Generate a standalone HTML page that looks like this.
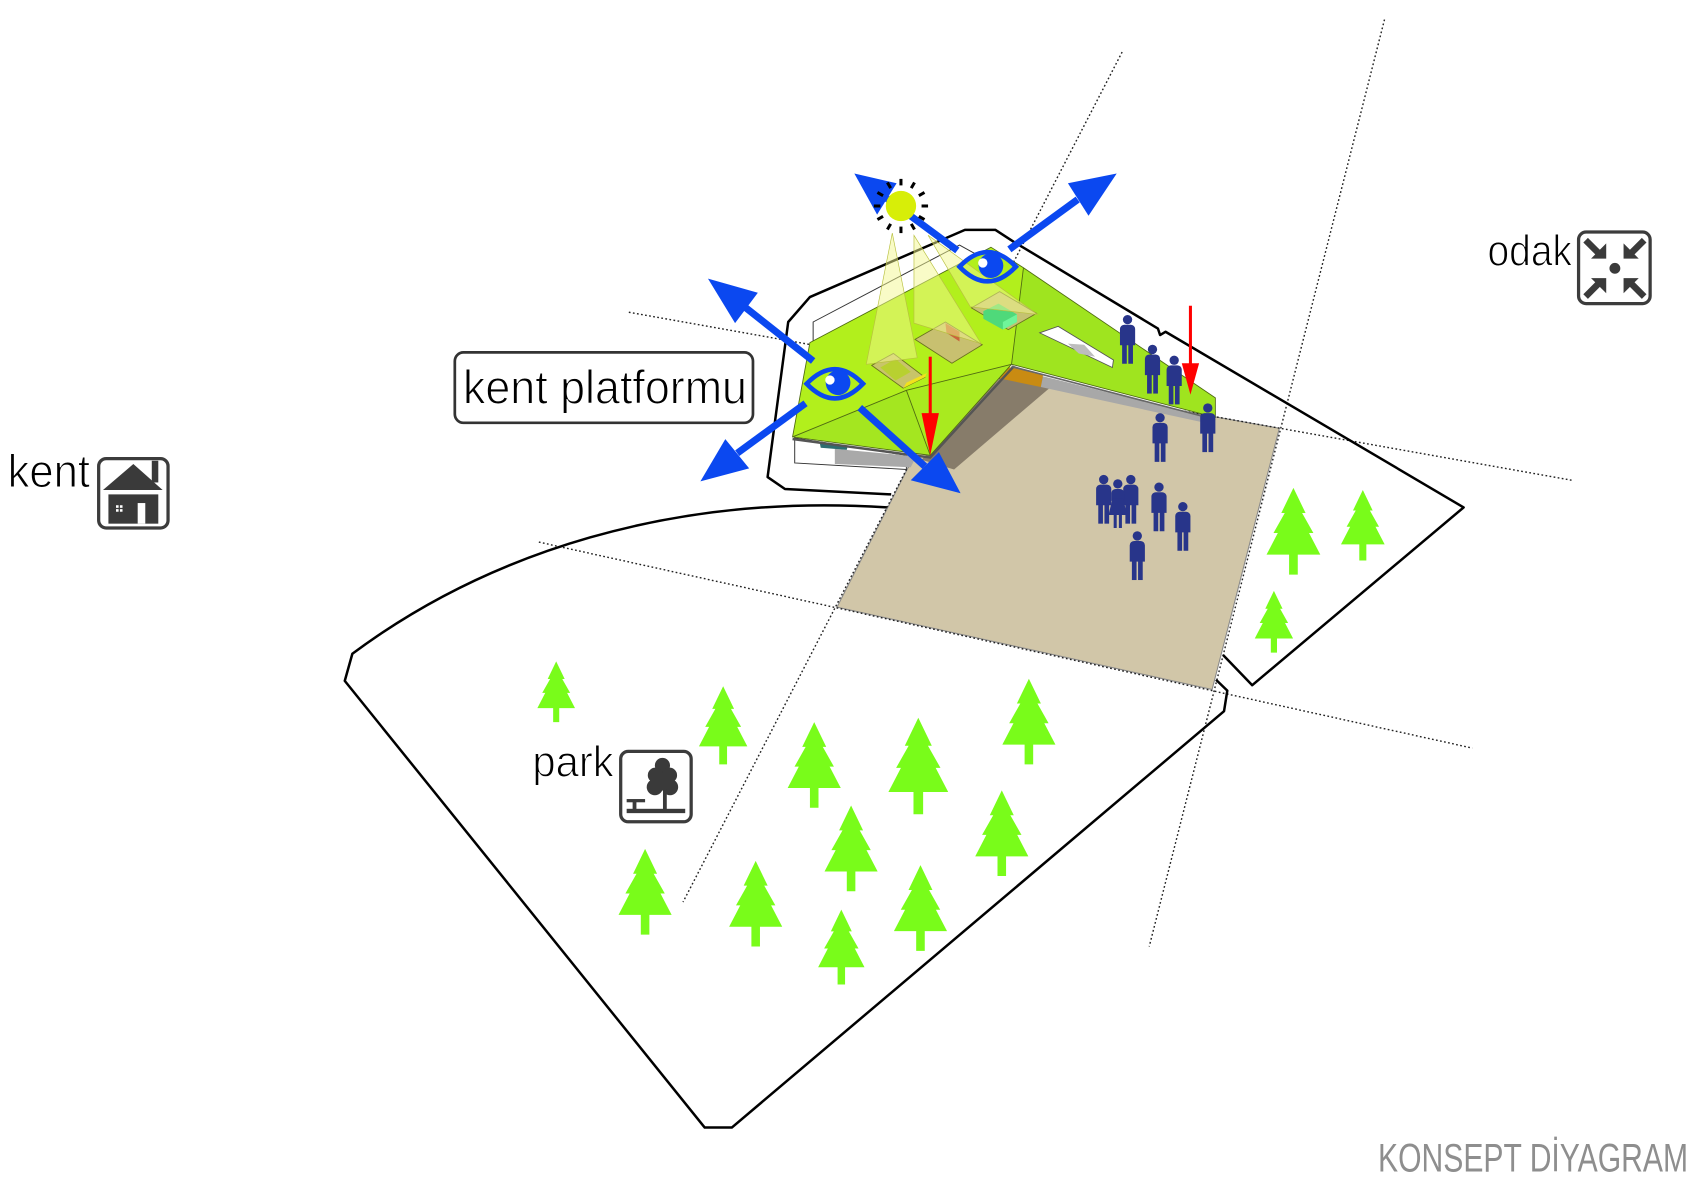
<!DOCTYPE html>
<html><head><meta charset="utf-8"><style>
html,body{margin:0;padding:0;background:#fff;}
svg{display:block;}
text{font-family:"Liberation Sans","DejaVu Sans",sans-serif;}
.lb{stroke:#fff;stroke-width:1;}
</style></head><body>
<svg xmlns="http://www.w3.org/2000/svg" width="1700" height="1181" viewBox="0 0 1568 1089.3">
<defs>
<path id="tr" d="M0,0 L14,29 L10,29 L23,52 L18,52 L31,77 L5,77 L5,100 L-5,100 L-5,77 L-31,77 L-18,52 L-23,52 L-10,29 L-14,29 Z" fill="#79fc1a"/>
<g id="pm" fill="#28358a">
<circle cx="0" cy="4.3" r="4.3"/>
<path d="M-7,13 a4,4 0 0 1 4,-4 h6 a4,4 0 0 1 4,4 v15 h-14 Z"/>
<rect x="-5" y="27" width="4.3" height="18"/>
<rect x="0.7" y="27" width="4.3" height="18"/>
</g>
<g id="pf" fill="#28358a">
<circle cx="0" cy="4.3" r="4.3"/>
<path d="M-6,13 a4,4 0 0 1 4,-4 h4 a4,4 0 0 1 4,4 v7 h-12 Z"/>
<polygon points="-5,18 5,18 8.5,33 -8.5,33"/>
<rect x="-3.8" y="32" width="2.8" height="13"/>
<rect x="1" y="32" width="2.8" height="13"/>
</g>
</defs>

<rect x="0" y="0" width="1568" height="1089.3" fill="#fff"/>

<!-- plaza -->
<polygon points="883,342 1180,395 1118,636 772,560" fill="#d1c6a8" stroke="#8a8a8a" stroke-width="1"/>

<!-- dotted lines -->
<g stroke="#222" stroke-width="1.3" stroke-dasharray="1.6 2.2" fill="none">
<line x1="1035" y1="48" x2="630" y2="832"/>
<line x1="1277" y1="18" x2="1060" y2="873"/>
<line x1="580" y1="288" x2="1450" y2="443"/>
<line x1="497" y1="500" x2="1358" y2="690"/>
</g>

<!-- parcels -->
<g fill="none" stroke="#000" stroke-width="2.3" stroke-linejoin="round">
<path d="M818,468 C620,455 450,510 325,603 L318,628 L650,1040 L675,1040 L1129,656 L1132,637 L1121.6,627"/>
<path d="M822,456 L724,451 L708,440 L727,297 L747,274 L890,212 L918,212 L935,223 L1068,303 L1070,309 L1075,306 L1350,468 L1155,632 L1128,604"/>
</g>

<!-- trees -->
<g>
<use href="#tr" transform="translate(513,610) scale(0.56)"/>
<use href="#tr" transform="translate(667,633) scale(0.72)"/>
<use href="#tr" transform="translate(751,666) scale(0.79)"/>
<use href="#tr" transform="translate(847,662) scale(0.89)"/>
<use href="#tr" transform="translate(949,626) scale(0.79)"/>
<use href="#tr" transform="translate(924,729) scale(0.79)"/>
<use href="#tr" transform="translate(785,743) scale(0.79)"/>
<use href="#tr" transform="translate(595,783) scale(0.79)"/>
<use href="#tr" transform="translate(697,794) scale(0.79)"/>
<use href="#tr" transform="translate(849,798) scale(0.79)"/>
<use href="#tr" transform="translate(776,839) scale(0.69)"/>
<use href="#tr" transform="translate(1193,450) scale(0.80)"/>
<use href="#tr" transform="translate(1257,452) scale(0.65)"/>
<use href="#tr" transform="translate(1175,545) scale(0.57)"/>
</g>

<!-- under-building -->
<polyline points="750,316 750,297 885,226 903,236" fill="none" stroke="#333" stroke-width="0.9"/>
<polygon points="733,404 836,420 836,433 733,427" fill="#fff" stroke="#333" stroke-width="0.9"/>
<polygon points="770,414 845,421 840,431 770,428" fill="#a9a9a9"/>
<polygon points="756,408 782,411 781,415 757,413" fill="#2e6e70"/>
<!-- shadow -->
<polygon points="850,424 880,433 975,352 934,337" fill="#877c6a"/>
<polygon points="928,338 962,346 960,357 922,349" fill="#c98b12"/>
<polygon points="962,347 1118,386 1116,391 960,357" fill="#a8a8a8"/>

<!-- roof -->
<polygon points="747,316 914,228 944,247 933,336 836,360 731,403" fill="#b2ef1c"/>
<polygon points="731,403 836,360 858,420" fill="#a4e620"/>
<polygon points="836,360 933,336 858,420" fill="#a9ea1f"/>
<polygon points="944,247 1121,367 1121,385 933,336" fill="#9fe41f"/>
<g fill="none" stroke="#4f6a12" stroke-width="0.8">
<polygon points="747,316 914,228 944,247 1121,367 1121,385 933,336 858,420 731,403"/>
<polyline points="731,403 836,360 933,336"/>
<line x1="836" y1="360" x2="858" y2="420"/>
<line x1="944" y1="247" x2="933" y2="336"/>
</g>
<polyline points="731,405 858,422 935,338" fill="none" stroke="#555" stroke-width="2.2"/>
<polyline points="933,338 1121,387" fill="none" stroke="#666" stroke-width="1.5"/>

<!-- wing slot -->
<polygon points="959,307 976,301 1027,332 1026,339" fill="#fff" stroke="#555" stroke-width="0.8"/>
<polygon points="985,317 1000,318 1010,329 995,326" fill="#bdbdbd"/>

<!-- skylights -->
<polygon points="804,337 824,326 853,348 833,358" fill="#c8c46a" stroke="#6a7020" stroke-width="0.8"/>
<polygon points="812,339 826,331 840,343 826,351" fill="#b8d030"/>
<polygon points="833,358 853,348 855,344 836,353" fill="#f2e21c"/>
<polygon points="844,313 872,297 906,318 878,335" fill="#c8c070" stroke="#6a7020" stroke-width="0.8"/>
<polygon points="872,298 885,306 885,315 873,307" fill="#c9663b"/>
<polygon points="896,284 922,269 956,289 930,304" fill="#c5c272" stroke="#6a7020" stroke-width="0.8"/>
<polygon points="907,287 921,280 938,290 938,297 925,304 907,294" fill="#4fd97a"/>
<polygon points="925,297 938,290 938,297 925,304" fill="#6ff59a"/>

<!-- light cones -->
<g fill="#f3f88f" fill-opacity="0.5" stroke="#b8c040" stroke-width="0.6">
<polygon points="823,215 799,336 846,330"/>
<polygon points="843,217 843,298 905,317"/>
<polygon points="856,217 895,283 957,290"/>
</g>

<!-- eyes -->
<g fill="none" stroke="#0b48f0" stroke-width="4.3">
<path d="M744,354 Q770,327 796,354 Q770,381 744,354 Z"/>
<path d="M885,246 Q911,219 937,246 Q911,273 885,246 Z"/>
</g>
<circle cx="773" cy="353" r="11.4" fill="#0b48f0"/>
<circle cx="765.5" cy="350.5" r="4.3" fill="#fff"/>
<circle cx="914" cy="245" r="11.4" fill="#0b48f0"/>
<circle cx="906.5" cy="242.5" r="4.3" fill="#fff"/>

<!-- blue arrows -->
<g stroke="#0b48f0" stroke-width="6.5" stroke-linecap="butt">
<line x1="750" y1="333" x2="688" y2="284"/>
<line x1="743" y1="372" x2="680" y2="418"/>
<line x1="793" y1="376" x2="853" y2="430"/>
<line x1="883" y1="231" x2="818" y2="183"/>
<line x1="931" y1="230" x2="994" y2="184"/>
</g>
<g fill="#0b48f0">
<polygon points="653,257 678,298 699,270"/>
<polygon points="646,444 669,405 691,432"/>
<polygon points="886,455 840,443 866,417"/>
<polygon points="788,160 809,198 827,169"/>
<polygon points="1030,160 985,169 1004,199"/>
</g>

<!-- sun -->
<g stroke="#000" stroke-width="2.8" stroke-linecap="butt">
<line x1="850" y1="190" x2="856" y2="190"/>
<line x1="847.5" y1="199.5" x2="852.7" y2="202.5"/>
<line x1="840.5" y1="206.5" x2="843.5" y2="211.7"/>
<line x1="831" y1="209" x2="831" y2="215"/>
<line x1="821.5" y1="206.5" x2="818.5" y2="211.7"/>
<line x1="814.5" y1="199.5" x2="809.3" y2="202.5"/>
<line x1="812" y1="190" x2="806" y2="190"/>
<line x1="814.5" y1="180.5" x2="809.3" y2="177.5"/>
<line x1="821.5" y1="173.5" x2="818.5" y2="168.3"/>
<line x1="831" y1="171" x2="831" y2="165"/>
<line x1="840.5" y1="173.5" x2="843.5" y2="168.3"/>
<line x1="847.5" y1="180.5" x2="852.7" y2="177.5"/>
</g>
<circle cx="831" cy="190" r="14" fill="#d7ee08"/>

<!-- red arrows -->
<g stroke="#ff0000" stroke-width="2.8">
<line x1="858" y1="329" x2="858" y2="384"/>
<line x1="1098" y1="282" x2="1098" y2="337"/>
</g>
<g fill="#ff0000">
<polygon points="850,381 866,381 858,420"/>
<polygon points="1090,335 1106,335 1098,364"/>
</g>

<!-- people -->
<use href="#pm" x="1040" y="290.5"/>
<use href="#pm" x="1063" y="318"/>
<use href="#pm" x="1083" y="328"/>
<use href="#pm" x="1114" y="372"/>
<use href="#pm" x="1070" y="381"/>
<use href="#pm" x="1018" y="438"/>
<use href="#pm" x="1043" y="438"/>
<use href="#pf" x="1031" y="442"/>
<use href="#pm" x="1069" y="445"/>
<use href="#pm" x="1091" y="463"/>
<use href="#pm" x="1049" y="490"/>

<!-- kent platformu label -->
<rect x="419.5" y="325" width="275" height="65" rx="8" fill="#fff" stroke="#333" stroke-width="2.5"/>
<text class="lb" x="427" y="372" font-size="44" textLength="262" lengthAdjust="spacingAndGlyphs" fill="#000">kent platformu</text>

<!-- kent -->
<text class="lb" x="7" y="449" font-size="43" textLength="76" lengthAdjust="spacingAndGlyphs" fill="#000">kent</text>
<rect x="91" y="423" width="64" height="64" rx="7" fill="#fff" stroke="#3c3c3c" stroke-width="3"/>
<rect x="140" y="425" width="6" height="20" fill="#3a3a3a"/>
<polygon points="95,452 123,428 150,452" fill="#3a3a3a"/>
<rect x="100" y="456" width="46" height="27" fill="#3a3a3a"/>
<rect x="127" y="464" width="7" height="19" fill="#fff"/>
<g fill="#fff">
<rect x="107" y="466" width="2.4" height="2.4"/><rect x="110.6" y="466" width="2.4" height="2.4"/>
<rect x="107" y="469.6" width="2.4" height="2.4"/><rect x="110.6" y="469.6" width="2.4" height="2.4"/>
</g>

<!-- odak -->
<text class="lb" x="1372" y="245" font-size="40" textLength="78" lengthAdjust="spacingAndGlyphs" fill="#000">odak</text>
<rect x="1456" y="214" width="66" height="66" rx="7" fill="#fff" stroke="#3c3c3c" stroke-width="3"/>
<g transform="translate(1489.5,247.5)">
<circle cx="0" cy="0" r="5" fill="#3a3a3a"/>
<g stroke="#3a3a3a" stroke-width="6">
<line x1="-27" y1="-26" x2="-13" y2="-12"/>
<line x1="27" y1="-26" x2="13" y2="-12"/>
<line x1="-27" y1="26" x2="-13" y2="12"/>
<line x1="27" y1="26" x2="13" y2="12"/>
</g>
<g fill="#3a3a3a">
<polygon points="-22,-9 -8,-9 -8,-23"/>
<polygon points="22,-9 8,-9 8,-23"/>
<polygon points="-22,9 -8,9 -8,23"/>
<polygon points="22,9 8,9 8,23"/>
</g>
</g>

<!-- park -->
<text class="lb" x="491" y="716" font-size="40" textLength="75" lengthAdjust="spacingAndGlyphs" fill="#000">park</text>
<rect x="572.5" y="693" width="65" height="65" rx="7" fill="#fff" stroke="#3c3c3c" stroke-width="3"/>
<g fill="#3a3a3a">
<circle cx="611" cy="706" r="7"/>
<circle cx="604.5" cy="715" r="7"/>
<circle cx="617.5" cy="715" r="7"/>
<circle cx="604" cy="726" r="7.5"/>
<circle cx="618" cy="726" r="7.5"/>
<circle cx="611" cy="721" r="8"/>
<rect x="611.5" y="728" width="3.5" height="19"/>
<rect x="578" y="746" width="54" height="4"/>
<rect x="578" y="737" width="17" height="3"/>
<rect x="583.5" y="739" width="3.5" height="8"/>
</g>

<!-- title -->
<text x="1271" y="1080.5" font-size="36.6" textLength="286" lengthAdjust="spacingAndGlyphs" fill="#8e8e8e">KONSEPT DİYAGRAM</text>
</svg>
</body></html>
